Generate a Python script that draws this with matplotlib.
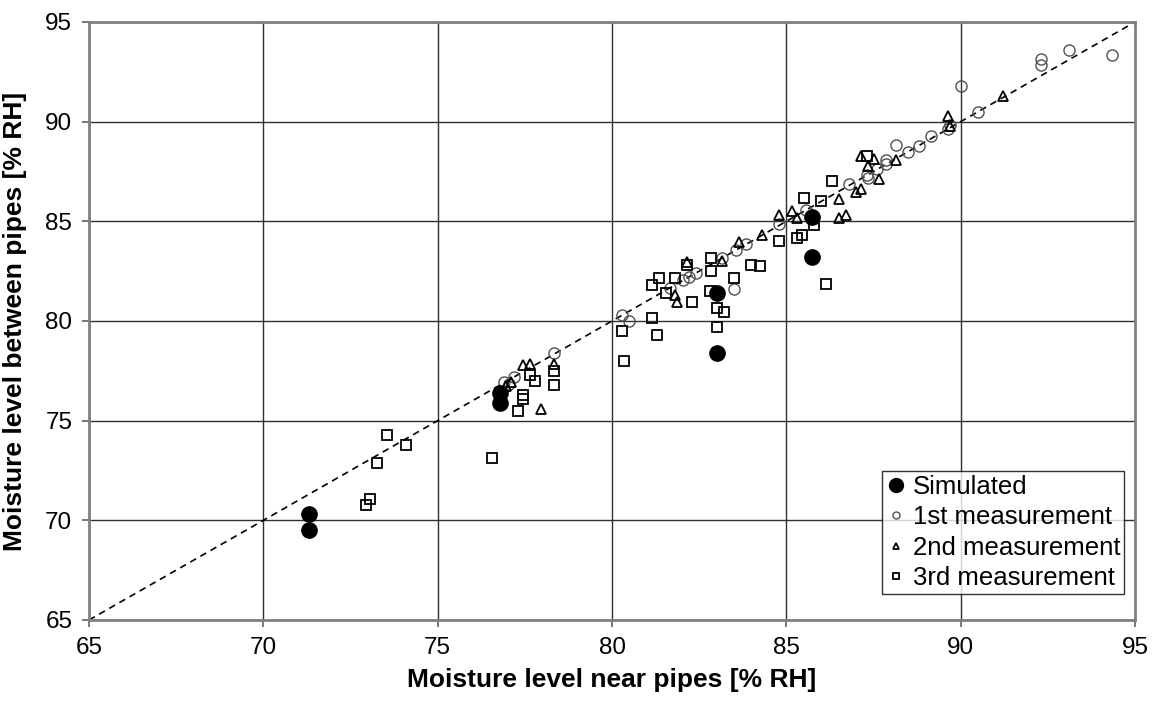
import matplotlib
matplotlib.use("Agg")
import matplotlib.pyplot as plt

plt.rcParams["font.family"] = ["Liberation Sans", "DejaVu Sans"]

# Simulated values
sim_x = [71.3, 71.3, 76.8, 76.8, 83.0, 83.0, 85.75, 85.75]
sim_y = [70.3, 69.5, 76.4, 75.9, 81.4, 78.4, 85.2, 83.2]

# 1st measurement
m1_x = [76.9, 77.05, 77.2, 78.35, 80.3, 80.5, 81.65, 82.05, 82.2, 82.4, 83.15, 83.5,
        83.55, 83.85, 84.8, 85.55, 86.8, 87.3, 87.35, 87.6, 87.85, 87.85, 88.15, 88.5,
        88.8, 89.15, 89.65, 89.7, 90.0, 90.5, 92.3, 92.3, 93.1, 94.35]
m1_y = [76.95, 76.85, 77.2, 78.4, 80.3, 80.0, 81.65, 82.05, 82.2, 82.4, 83.15, 81.6,
        83.55, 83.85, 84.85, 85.55, 86.85, 87.3, 87.15, 87.65, 87.9, 88.1, 88.85, 88.5,
        88.8, 89.3, 89.65, 89.85, 91.8, 90.5, 93.15, 92.85, 93.6, 93.35]

# 2nd measurement
m2_x = [76.95, 77.1, 77.45, 77.65, 77.95, 78.35, 81.85, 81.8, 82.15, 83.15, 83.65, 84.3,
        84.8, 85.15, 85.3, 86.5, 86.5, 86.7, 87.0, 87.15, 87.15, 87.35, 87.5, 87.65,
        88.15, 89.65, 89.7, 91.2]
m2_y = [76.75, 76.95, 77.8, 77.85, 75.6, 77.85, 80.95, 81.3, 82.95, 83.0, 83.95, 84.3,
        85.3, 85.5, 85.15, 86.1, 85.15, 85.3, 86.45, 86.6, 88.3, 87.8, 88.15, 87.1,
        88.1, 90.3, 89.8, 91.3]

# 3rd measurement
m3_x = [72.95, 73.05, 73.25, 73.55, 74.1, 76.55, 77.3, 77.45, 77.45, 77.65, 77.8, 78.35,
        78.35, 80.3, 80.35, 81.15, 81.3, 81.15, 81.35, 81.55, 81.8, 82.15, 82.3, 82.85,
        82.85, 82.8, 83.0, 83.2, 83.0, 83.5, 84.0, 84.25, 84.8, 85.3, 85.45, 85.8,
        86.15, 85.5, 86.0, 86.3, 87.3]
m3_y = [70.75, 71.05, 72.9, 74.3, 73.8, 73.15, 75.5, 76.3, 76.1, 77.3, 77.0, 77.5,
        76.8, 79.5, 78.0, 80.15, 79.3, 81.8, 82.15, 81.4, 82.15, 82.8, 80.95, 83.15,
        82.5, 81.5, 80.65, 80.45, 79.7, 82.15, 82.8, 82.75, 84.0, 84.15, 84.3, 84.8,
        81.85, 86.15, 86.0, 87.0, 88.3]

ticks = [65, 70, 75, 80, 85, 90, 95]

fig = plt.figure(figsize=(11.54, 7.02), dpi=100)
ax = fig.add_axes([89 / 1154, 82 / 702, 1046 / 1154, 598 / 702])

ax.plot([65, 95], [65, 95], color="black", linestyle=(0, (4, 3)), linewidth=1.2, zorder=2)

ax.plot(m1_x, m1_y, linestyle="none", marker="o", markersize=8, markerfacecolor="none",
        markeredgecolor="#505050", markeredgewidth=1.0, label="1st measurement", zorder=3)
ax.plot(m2_x, m2_y, linestyle="none", marker="^", markersize=7.5, markerfacecolor="none",
        markeredgecolor="black", markeredgewidth=1.3, label="2nd measurement", zorder=3)
ax.plot(m3_x, m3_y, linestyle="none", marker="s", markersize=7, markerfacecolor="none",
        markeredgecolor="black", markeredgewidth=1.3, label="3rd measurement", zorder=3)
ax.plot(sim_x, sim_y, linestyle="none", marker="o", markersize=11, color="black",
        label="Simulated", zorder=4)

ax.set_xlim(65, 95)
ax.set_ylim(65, 95)
ax.set_xticks(ticks)
ax.set_yticks(ticks)
ax.grid(True, color="#303030", linewidth=1.0)
ax.set_axisbelow(True)
for s in ax.spines.values():
    s.set_color("#808080")
    s.set_linewidth(2)
ax.tick_params(direction="out", length=5, width=1.2, color="#606060",
               labelsize=17.5, pad=7)

ax.set_xlabel("Moisture level near pipes [% RH]", fontsize=19, fontweight="bold")
ax.set_ylabel("Moisture level between pipes [% RH]", fontsize=19, fontweight="bold")
ax.xaxis.set_label_coords(0.5, -0.08)
ax.yaxis.set_label_coords(-0.059, 0.5)

h, l = ax.get_legend_handles_labels()
order = [3, 0, 1, 2]
leg = ax.legend([h[i] for i in order], [l[i] for i in order], loc="lower right",
                bbox_to_anchor=(0.9895, 0.0435), fontsize=18.5, frameon=True, fancybox=False,
                edgecolor="black", handletextpad=0.25, handlelength=0.8,
                borderpad=0.15, labelspacing=0.25, borderaxespad=0)
leg.get_frame().set_linewidth(1.0)
for lh, ms in zip(leg.legend_handles, [10, 5, 5, 4.5]):
    lh.set_markersize(ms)

fig.savefig("out.png", dpi=100)
